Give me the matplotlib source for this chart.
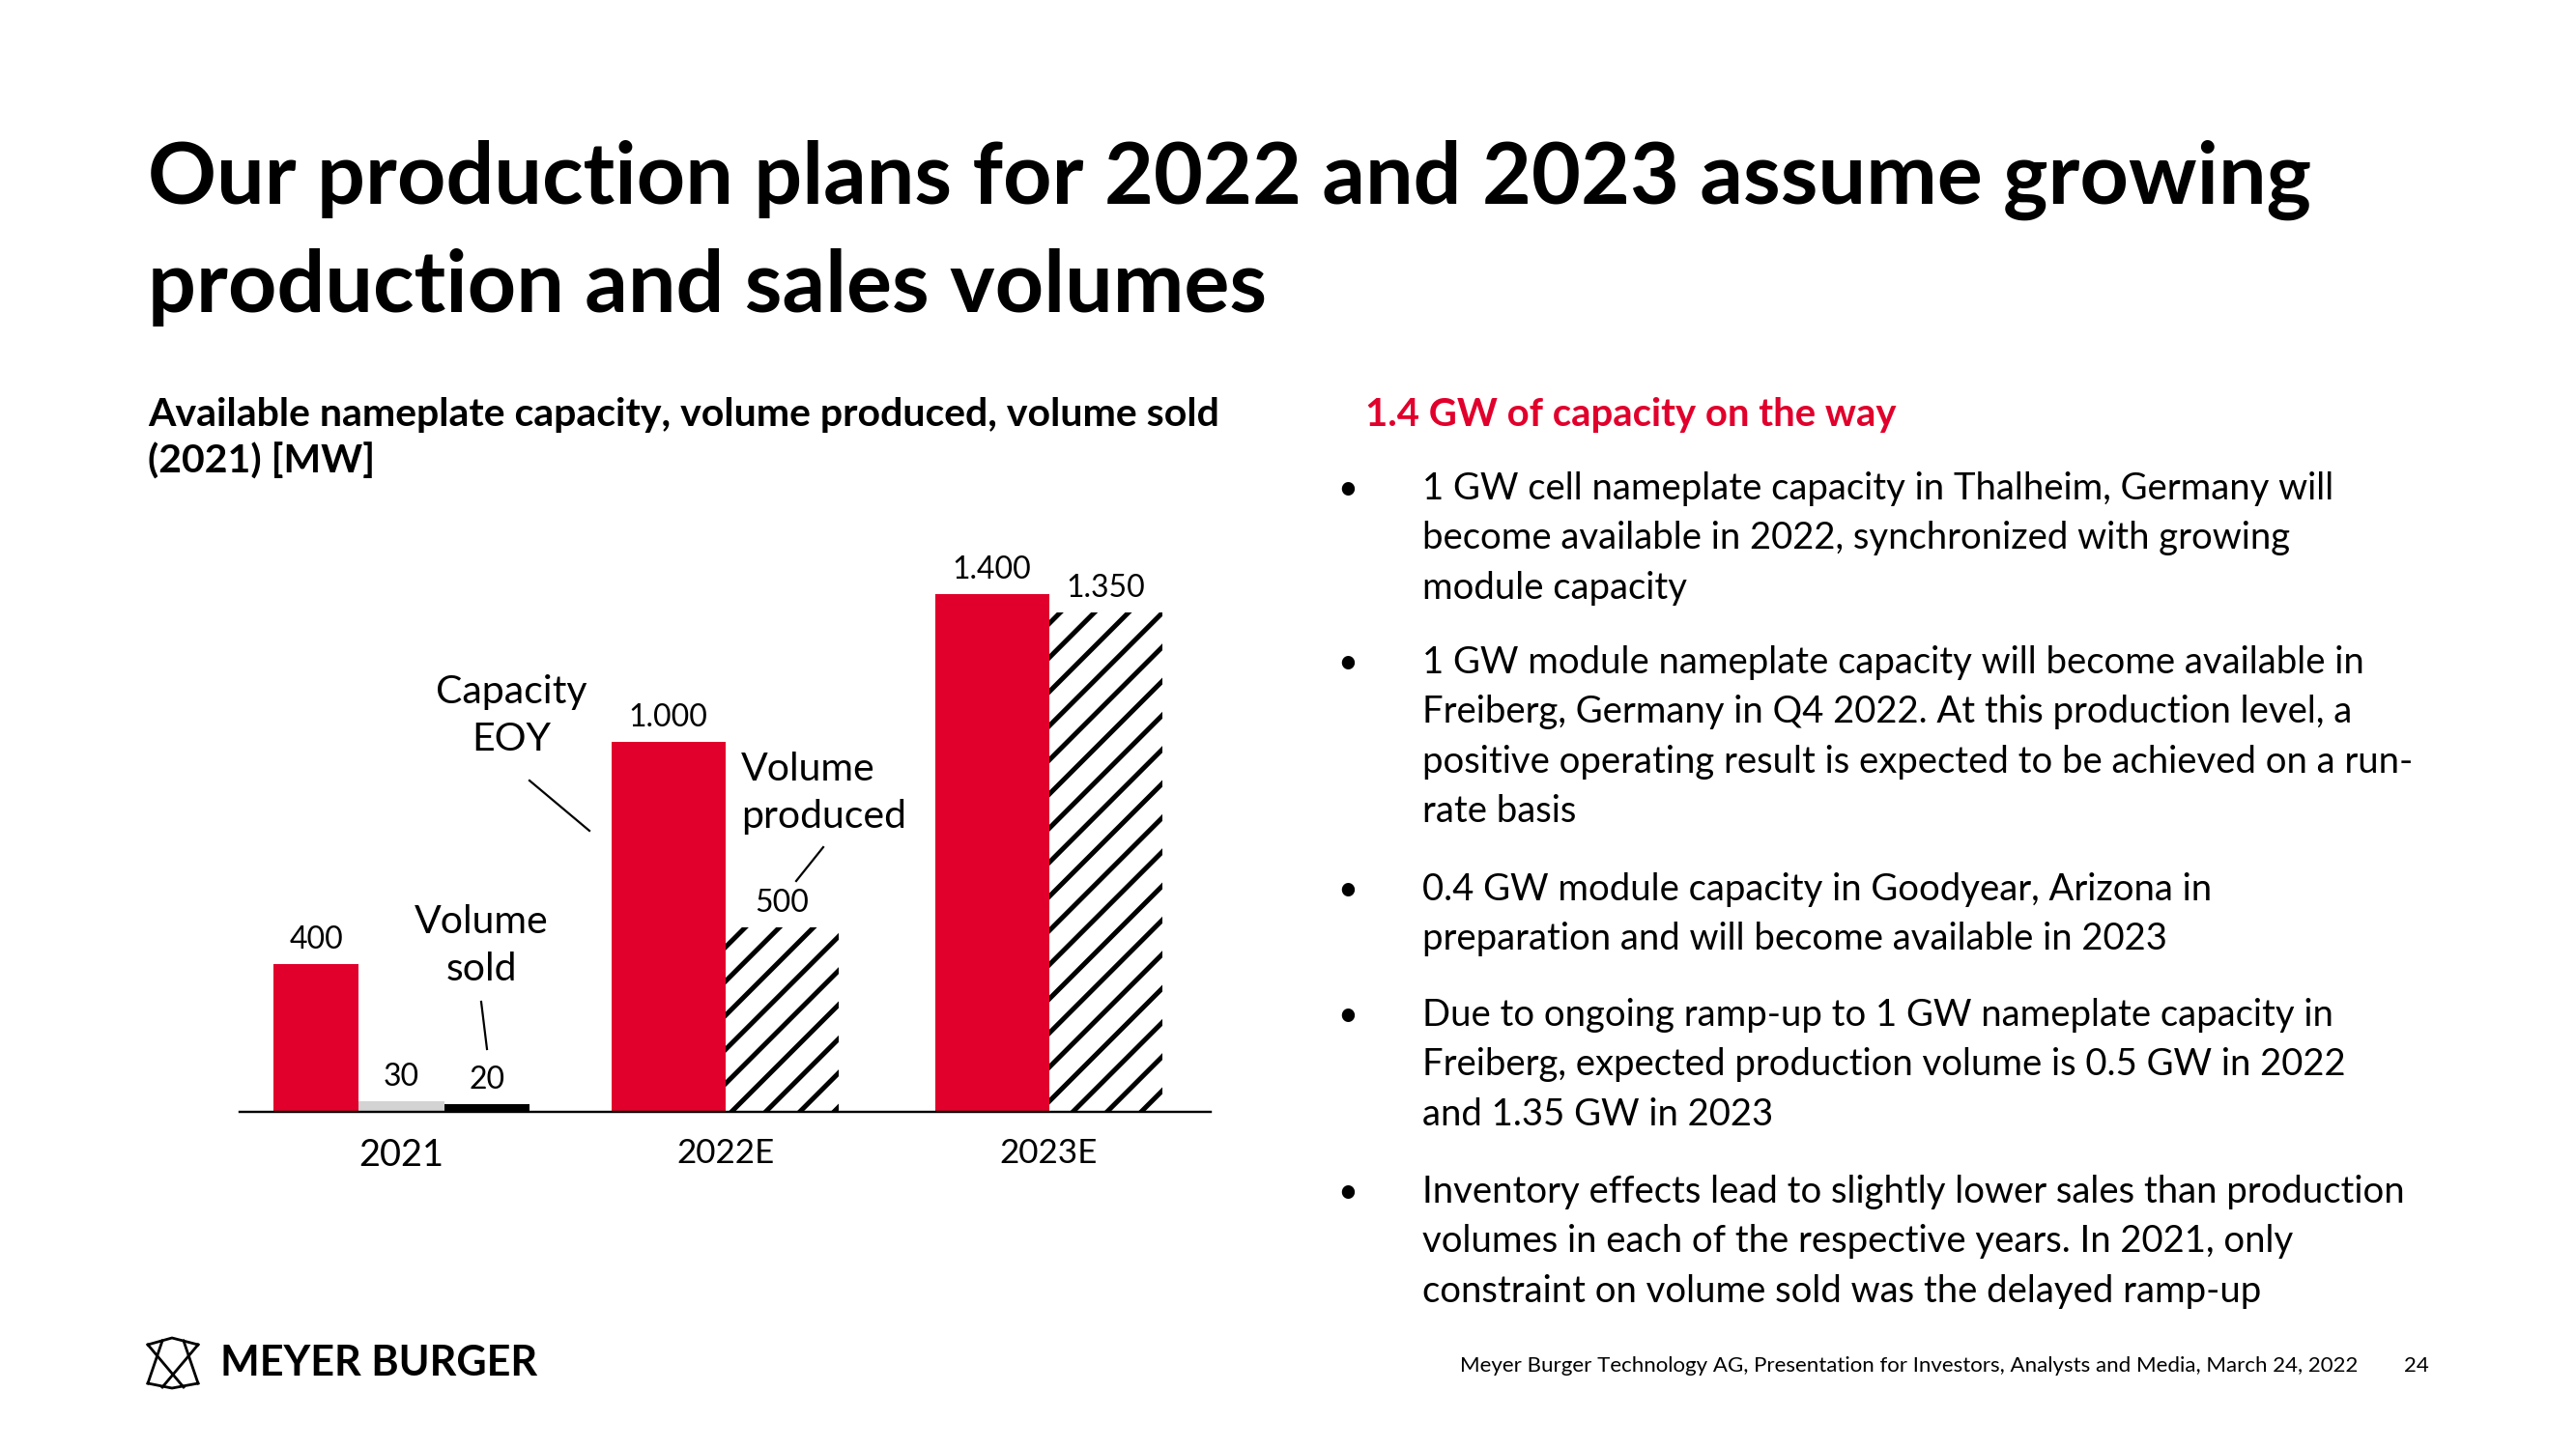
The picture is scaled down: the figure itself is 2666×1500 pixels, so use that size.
import numpy as np
import matplotlib
matplotlib.use("Agg")
import matplotlib.pyplot as plt
from matplotlib.lines import Line2D

# chart data (MW)
years = ["2021", "2022E", "2023E"]
capacity = [400, 1000, 1400]      # capacity EOY
produced = [30, 500, 1350]        # volume produced
sold = [20]                       # volume sold, only shown for 2021

RED = "#E1002C"
GREY = "#D3D3D3"
W, H, DPI = 2666, 1500, 106   # dpi picked so the hatch spacing matches the slide


def pt(px):
    # all sizes below are written in output pixels
    return px * 72 / DPI


plt.rcParams["font.family"] = ["Lato", "DejaVu Sans"]
plt.rcParams["hatch.linewidth"] = pt(5.0)
plt.rcParams["hatch.color"] = "black"

fig = plt.figure(figsize=(W / DPI, H / DPI), dpi=DPI)


# slide positions are given in pixels from the top-left corner
def fx(x):
    return x / W


def fy(y):
    return 1 - y / H


def txt(x, y, s, size, **kw):
    kw.setdefault("va", "baseline")
    return fig.text(fx(x), fy(y), s, fontsize=pt(size), **kw)


def line(pts, lw=2.2, color="black"):
    xs = [fx(p[0]) for p in pts]
    ys = [fy(p[1]) for p in pts]
    fig.add_artist(Line2D(xs, ys, lw=pt(lw), color=color,
                          transform=fig.transFigure))


def mw(v):
    return f"{v:,}".replace(",", ".")


# title
txt(153, 211, "Our production plans for 2022 and 2023 assume growing", 88,
    fontweight="bold")
txt(153, 323, "production and sales volumes", 88, fontweight="bold")

# chart subtitle
txt(153, 441, "Available nameplate capacity, volume produced, volume sold", 41,
    fontweight="bold")
txt(153, 490, "(2021) [MW]", 41, fontweight="bold")

# ---- bar chart ----
ax = fig.add_axes([fx(248), fy(1151), 1005 / W, 574.5 / H])
ax.set_xlim(-0.5, 2.5)
ax.set_ylim(0, 1500)
for s in ["top", "right", "left"]:
    ax.spines[s].set_visible(False)
ax.spines["bottom"].set_linewidth(pt(2.4))
ax.set_yticks([])

w21 = 0.263
w = 0.352
bars = []
bars += ax.bar(0 - w21, capacity[0], w21, color=RED).patches
bars += ax.bar(0, produced[0], w21, color=GREY).patches
bars += ax.bar(0 + w21, sold[0], w21, color="black").patches
x = np.arange(1, len(years))
bars += ax.bar(x - w / 2, capacity[1:], w, color=RED).patches
bars += ax.bar(x + w / 2, produced[1:], w, color="white", edgecolor="black",
               hatch="/", linewidth=0).patches

vals = [capacity[0], produced[0], sold[0]] + capacity[1:] + produced[1:]
for b, v in zip(bars, vals):
    ax.annotate(mw(v), (b.get_x() + b.get_width() / 2, b.get_height()),
                xytext=(0, pt(16)), textcoords="offset points", ha="center",
                va="baseline", fontsize=pt(32))

ax.set_xticks(range(len(years)), years)
ax.tick_params(axis="x", length=0, pad=pt(27), labelsize=pt(35))
ax.get_xticklabels()[0].set_fontsize(pt(38))

# callouts
txt(529, 741, "Capacity\nEOY", 41, ha="center", va="center", linespacing=1.42)
line([(548, 808), (610, 860)])
txt(767, 821, "Volume\nproduced", 41, ha="left", va="center", linespacing=1.42)
line([(852, 877), (824, 912)])
txt(498, 979, "Volume\nsold", 41, ha="center", va="center", linespacing=1.42)
line([(498, 1037), (504, 1086)])

# ---- right column ----
txt(1413, 441, "1.4 GW of capacity on the way", 40, fontweight="bold",
    color=RED)

bullets = [
    (517, ["1 GW cell nameplate capacity in Thalheim, Germany will",
           "become available in 2022, synchronized with growing",
           "module capacity"]),
    (697, ["1 GW module nameplate capacity will become available in",
           "Freiberg, Germany in Q4 2022. At this production level, a",
           "positive operating result is expected to be achieved on a run-",
           "rate basis"]),
    (932, ["0.4 GW module capacity in Goodyear, Arizona in",
           "preparation and will become available in 2023"]),
    (1062, ["Due to ongoing ramp-up to 1 GW nameplate capacity in",
            "Freiberg, expected production volume is 0.5 GW in 2022",
            "and 1.35 GW in 2023"]),
    (1245, ["Inventory effects lead to slightly lower sales than production",
            "volumes in each of the respective years. In 2021, only",
            "constraint on volume sold was the delayed ramp-up"]),
]
step = 51.3
for y0, lines in bullets:
    txt(1384, y0, "\u2022", 36)
    for i, s in enumerate(lines):
        txt(1472, y0 + i * step, s, 38.3)

# ---- footer ----
for seg in [[(153, 1392), (178, 1385), (205, 1392)],
            [(153, 1432), (178, 1437), (205, 1432)],
            [(153, 1392), (190, 1436)], [(168, 1388), (153, 1432)],
            [(205, 1392), (168, 1436)], [(190, 1388), (205, 1432)]]:
    line(seg, lw=2.8)
txt(228, 1424, "MEYER BURGER", 43, fontweight="bold")

txt(2440, 1420, "Meyer Burger Technology AG, Presentation for Investors, "
    "Analysts and Media, March 24, 2022", 22.2, ha="right")
txt(2514, 1420, "24", 22.2, ha="right")

fig.savefig("out.png", dpi=DPI, facecolor="white")
